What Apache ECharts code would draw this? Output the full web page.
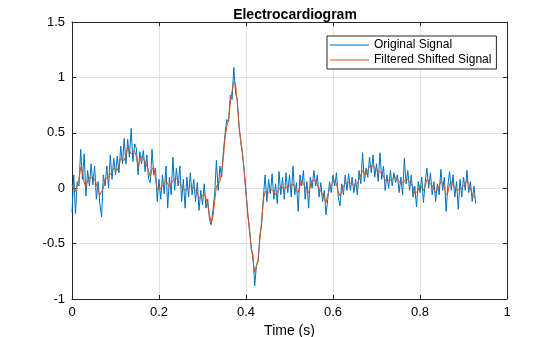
<!DOCTYPE html>
<html>
<head>
<meta charset="utf-8">
<script src="https://cdn.jsdelivr.net/npm/echarts@6/dist/echarts.min.js"></script>
<style>
  html, body { margin: 0; padding: 0; background: #fff; }
  #chart { width: 560px; height: 337px; }
</style>
</head>
<body>
<div id="chart"></div>
<script>
// ECG trace sampled at 250 Hz (0 .. 0.928 s)
const sampleRate = 250;

// Raw ECG samples (mV, normalised)
const originalSignal = [
  -0.22, 0.12, -0.23, 0.06, 0.02, 0.35, 0.08, 0.31, -0.07, 0.16,
  0.02, 0.22, 0.03, 0.20, -0.10, 0.06, -0.14, -0.26, 0.12, 0.02,
  0.20, 0.00, 0.30, 0.08, 0.27, 0.12, 0.29, 0.14, 0.38, 0.22,
  0.45, 0.22, 0.44, 0.28, 0.54, 0.24, 0.40, 0.36, 0.12, 0.33,
  0.22, 0.34, 0.15, 0.30, 0.08, 0.05, 0.35, 0.12, 0.18, -0.12,
  0.08, -0.10, 0.12, -0.05, 0.20, -0.18, 0.10, -0.06, 0.28, -0.02,
  0.18, 0.02, 0.20, -0.12, 0.08, -0.18, 0.10, -0.08, 0.14, -0.06,
  0.08, -0.12, 0.05, -0.20, -0.02, -0.15, 0.04, -0.18, -0.10, -0.28,
  -0.33, -0.20, -0.05, 0.25, -0.02, 0.20, 0.10, 0.33, 0.50, 0.62,
  0.60, 0.84, 0.80, 1.09, 0.86, 0.80, 0.55, 0.43, 0.30, 0.16,
  -0.03, -0.24, -0.36, -0.55, -0.60, -0.88, -0.70, -0.66, -0.42, -0.32,
  -0.08, 0.12, -0.12, 0.08, -0.05, 0.13, -0.10, 0.04, -0.14, 0.15,
  -0.06, 0.10, -0.10, 0.14, -0.04, 0.12, -0.08, 0.20, -0.06, 0.05,
  -0.21, 0.12, 0.02, 0.16, -0.10, 0.06, -0.18, 0.10, 0.00, 0.16,
  0.02, 0.12, -0.08, 0.05, -0.12, -0.02, -0.24, -0.10, 0.06, -0.04,
  0.12, 0.02, 0.14, -0.08, -0.16, 0.04, -0.06, 0.12, -0.02, 0.13,
  -0.02, 0.10, -0.04, 0.08, -0.06, 0.16, 0.04, 0.32, 0.06, 0.18,
  0.10, 0.28, 0.14, 0.30, 0.10, 0.22, 0.06, 0.32, 0.08, 0.20,
  -0.02, 0.12, 0.00, 0.16, 0.02, 0.14, 0.05, 0.12, -0.04, 0.10,
  -0.06, 0.27, 0.04, 0.16, -0.02, 0.12, -0.08, 0.02, -0.17, 0.06,
  -0.04, 0.10, -0.13, 0.06, 0.18, 0.00, 0.14, -0.06, 0.06, -0.12,
  0.04, -0.06, 0.17, -0.02, 0.10, -0.21, 0.02, 0.15, -0.02, 0.12,
  -0.08, 0.06, -0.19, 0.08, -0.08, 0.10, -0.02, 0.16, -0.04, 0.06,
  -0.12, 0.02, -0.14
];

// Low-pass filtered trace, shifted to compensate for the filter delay
const filteredSignal = [
  0.03, 0.00, -0.03, -0.04, 0.08, 0.19, 0.15, 0.05, 0.01, 0.07,
  0.09, 0.10, 0.10, 0.08, 0.04, -0.02, -0.06, -0.07, 0.00, 0.08,
  0.09, 0.10, 0.10, 0.15, 0.18, 0.17, 0.16, 0.21, 0.27, 0.27,
  0.25, 0.30, 0.37, 0.36, 0.31, 0.32, 0.34, 0.28, 0.20, 0.25,
  0.29, 0.27, 0.24, 0.23, 0.16, 0.10, 0.17, 0.19, 0.08, -0.01,
  -0.01, 0.00, 0.02, 0.05, 0.07, 0.04, 0.01, 0.04, 0.07, 0.08,
  0.09, 0.09, 0.05, 0.01, 0.00, -0.02, -0.02, 0.00, 0.02, 0.02,
  0.00, -0.02, -0.04, -0.09, -0.10, -0.07, -0.05, -0.09, -0.15, -0.24,
  -0.31, -0.26, -0.12, 0.02, 0.04, 0.06, 0.15, 0.28, 0.46, 0.56,
  0.62, 0.78, 0.88, 0.96, 0.94, 0.77, 0.57, 0.41, 0.32, 0.14,
  -0.05, -0.22, -0.39, -0.52, -0.65, -0.76, -0.77, -0.64, -0.46, -0.30,
  -0.10, -0.03, -0.02, -0.04, -0.01, 0.00, -0.03, -0.06, -0.06, -0.01,
  0.02, 0.01, -0.01, 0.01, 0.02, 0.02, 0.03, 0.04, 0.01, -0.02,
  -0.04, 0.02, 0.07, 0.04, 0.01, -0.02, -0.04, 0.02, 0.07, 0.08,
  0.07, 0.03, -0.01, -0.03, -0.05, -0.09, -0.13, -0.06, -0.01, 0.03,
  0.05, 0.07, 0.04, -0.03, -0.07, -0.03, 0.02, 0.04, 0.04, 0.05,
  0.05, 0.04, 0.03, 0.02, 0.04, 0.08, 0.12, 0.16, 0.14, 0.12,
  0.16, 0.20, 0.21, 0.20, 0.18, 0.16, 0.15, 0.15, 0.14, 0.11,
  0.07, 0.06, 0.07, 0.08, 0.08, 0.09, 0.10, 0.08, 0.06, 0.04,
  0.03, 0.06, 0.09, 0.08, 0.06, 0.05, 0.01, -0.05, -0.04, -0.02,
  0.03, 0.02, -0.02, 0.02, 0.08, 0.07, 0.04, 0.02, -0.01, -0.04,
  -0.03, 0.02, 0.06, 0.04, 0.00, -0.06, -0.04, 0.04, 0.06, 0.03,
  0.00, -0.02, -0.02, -0.01, 0.00, 0.02, 0.04, 0.07, 0.04, -0.01,
  -0.05, -0.08, -0.09
];

const xTicks = { min: 0, max: 1, step: 0.2 };
const yTicks = { min: -1, max: 1.5, step: 0.5 };

const seriesNames = ['Original Signal', 'Filtered Shifted Signal'];

// sample times in seconds
const time = originalSignal.map((_, i) => i / sampleRate);
const pairs = arr => arr.map((v, i) => [time[i], v]);

const font = 'Liberation Sans, Arial, Helvetica, sans-serif';
const axisColor = '#262626';
const gridColor = '#e1e1e1';

const chart = echarts.init(document.getElementById('chart'), null, { renderer: 'canvas' });

const baseX = {
  type: 'value', min: xTicks.min, max: xTicks.max, interval: xTicks.step,
  axisLine: { show: true, onZero: false, lineStyle: { color: axisColor, width: 1 } },
  axisTick: { show: true, inside: true, length: 4, lineStyle: { color: axisColor } }
};
const baseY = {
  type: 'value', min: yTicks.min, max: yTicks.max, interval: yTicks.step,
  axisLine: { show: true, onZero: false, lineStyle: { color: axisColor, width: 1 } },
  axisTick: { show: true, inside: true, length: 4, lineStyle: { color: axisColor } }
};

chart.setOption({
  animation: false,
  backgroundColor: '#ffffff',
  title: {
    text: 'Electrocardiogram',
    left: 290, top: 3, textAlign: 'center',
    textStyle: { fontFamily: font, fontWeight: 'bold', fontSize: 14, color: '#000' }
  },
  grid: { left: 72, right: 53, top: 22, bottom: 38, containLabel: false, outerBoundsMode: 'none' },
  legend: {
    data: seriesNames,
    orient: 'vertical',
    left: 327, top: 36,
    itemWidth: 39, itemHeight: 1, itemGap: 3,
    icon: 'rect',
    padding: [3, 5, 3, 3],
    borderColor: axisColor, borderWidth: 1,
    backgroundColor: '#fff',
    textStyle: { fontFamily: font, fontSize: 12, color: '#000' }
  },
  xAxis: [
    Object.assign({}, baseX, {
      position: 'bottom',
      name: 'Time (s)', nameLocation: 'middle', nameGap: 20,
      nameTextStyle: { fontFamily: font, fontSize: 14, color: '#000' },
      axisLabel: { fontFamily: font, fontSize: 13, color: '#000', margin: 7 },
      splitLine: { show: true, lineStyle: { color: gridColor, width: 1 } }
    }),
    Object.assign({}, baseX, {
      position: 'top',
      axisLabel: { show: false }, splitLine: { show: false }
    })
  ],
  yAxis: [
    Object.assign({}, baseY, {
      position: 'left',
      axisLabel: { fontFamily: font, fontSize: 13, color: '#000', margin: 7 },
      splitLine: { show: true, lineStyle: { color: gridColor, width: 1 } }
    }),
    Object.assign({}, baseY, {
      position: 'right',
      axisLabel: { show: false }, splitLine: { show: false }
    })
  ],
  series: [
    {
      name: seriesNames[0], type: 'line', data: pairs(originalSignal),
      showSymbol: false, symbol: 'none', color: '#0072BD',
      lineStyle: { color: '#0072BD', width: 1 }, z: 2
    },
    {
      name: seriesNames[1], type: 'line', data: pairs(filteredSignal),
      showSymbol: false, symbol: 'none', color: '#D95319',
      lineStyle: { color: '#D95319', width: 1 }, z: 3
    }
  ]
});
</script>
</body>
</html>
